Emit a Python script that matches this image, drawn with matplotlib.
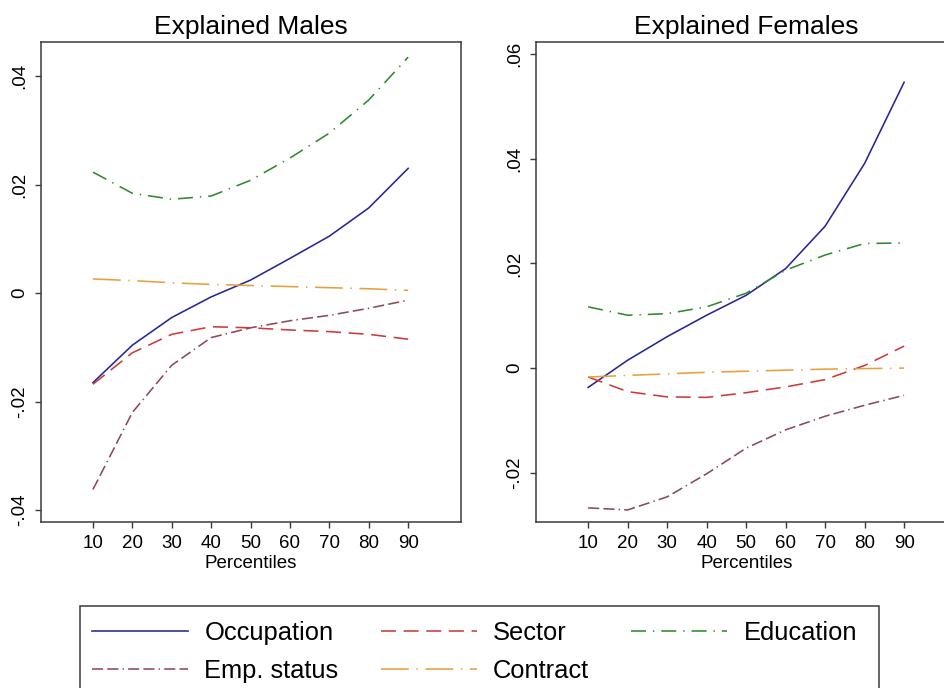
import matplotlib
matplotlib.use("Agg")
import matplotlib.pyplot as plt
from matplotlib.patches import Rectangle

plt.rcParams['font.family'] = ['Liberation Sans', 'DejaVu Sans']
plt.rcParams['lines.scale_dashes'] = False

percentiles = [10, 20, 30, 40, 50, 60, 70, 80, 90]

# explained components, males
males_occupation = [-0.0165, -0.0096, -0.0045, -0.0007, 0.0024, 0.0064, 0.0105, 0.0157, 0.0230]
males_sector = [-0.0168, -0.0110, -0.0076, -0.0062, -0.0064, -0.0068, -0.0071, -0.0076, -0.0085]
males_education = [0.0223, 0.0184, 0.0173, 0.0179, 0.0208, 0.0249, 0.0295, 0.0356, 0.0435]
males_empstatus = [-0.0362, -0.0220, -0.0133, -0.0082, -0.0064, -0.0051, -0.0041, -0.0028, -0.0013]
males_contract = [0.0026, 0.0023, 0.0019, 0.0016, 0.0014, 0.0012, 0.0010, 0.0008, 0.0005]

# explained components, females
females_occupation = [-0.0037, 0.0015, 0.0060, 0.0101, 0.0139, 0.0190, 0.0271, 0.0391, 0.0546]
females_sector = [-0.0017, -0.0045, -0.0055, -0.0056, -0.0047, -0.0036, -0.0022, 0.0005, 0.0042]
females_education = [0.0117, 0.0101, 0.0104, 0.0117, 0.0143, 0.0187, 0.0216, 0.0238, 0.0239]
females_empstatus = [-0.0267, -0.0271, -0.0246, -0.0202, -0.0153, -0.0118, -0.0092, -0.0071, -0.0052]
females_contract = [-0.0017, -0.0014, -0.0011, -0.0008, -0.0006, -0.0004, -0.0002, -0.0001, 0.0000]

males_yticks = [-0.04, -0.02, 0, 0.02, 0.04]
males_yticklabels = ['-.04', '-.02', '0', '.02', '.04']
females_yticks = [-0.02, 0, 0.02, 0.04, 0.06]
females_yticklabels = ['-.02', '0', '.02', '.04', '.06']

styles = {
    'Occupation': dict(color='#26269a', linestyle='-'),
    'Sector': dict(color='#cc3a3a', linestyle=(0, (10.8, 5.5))),
    'Education': dict(color='#2e8a2e', linestyle=(0, (10.8, 5, 1, 5))),
    'Emp. status': dict(color='#8c4a56', linestyle=(0, (8, 3, 8, 3, 1, 3))),
    'Contract': dict(color='#e6a03c', linestyle=(0, (20, 5.5, 1, 5.5))),
}
frame_col = '#3a3a3a'

fig = plt.figure(figsize=(9.44, 6.88), dpi=100)
ax1 = fig.add_axes([0.0434, 0.2413, 0.4449, 0.6977])
ax2 = fig.add_axes([0.5678, 0.2413, 0.4460, 0.6977])


def draw_panel(ax, title, series, yticks, yticklabels, ylim):
    for name, vals in series:
        ax.plot(percentiles, vals, lw=1.15, label=name, **styles[name])
    ax.set_xlim(-3.2, 103.4)
    ax.set_ylim(*ylim)
    ax.set_xticks(percentiles)
    ax.set_yticks(yticks)
    ax.set_yticklabels(yticklabels, rotation=90, va='center')
    ax.tick_params(labelsize=13.5, length=4.5, width=1.0, color=frame_col, pad=5)
    ax.set_xlabel('Percentiles', fontsize=13.5, labelpad=2)
    ax.set_title(title, fontsize=19, pad=6)
    for sp in ax.spines.values():
        sp.set_color(frame_col)
        sp.set_linewidth(1.1)


draw_panel(ax1, 'Explained Males',
           [('Occupation', males_occupation), ('Emp. status', males_empstatus),
            ('Sector', males_sector), ('Contract', males_contract),
            ('Education', males_education)],
           males_yticks, males_yticklabels, (-0.0422, 0.0463))
draw_panel(ax2, 'Explained Females',
           [('Occupation', females_occupation), ('Emp. status', females_empstatus),
            ('Sector', females_sector), ('Contract', females_contract),
            ('Education', females_education)],
           females_yticks, females_yticklabels, (-0.0294, 0.0623))

# legend box running off the bottom edge
fig.patches.append(Rectangle((80 / 944, -0.05), (879 - 80) / 944, 0.05 + (688 - 606) / 688,
                             transform=fig.transFigure, fill=False,
                             edgecolor=frame_col, lw=1.1))
handles, labels = ax1.get_legend_handles_labels()
fig.legend(handles, labels, ncol=3, frameon=False, fontsize=18.4,
           loc='upper left', bbox_to_anchor=(92 / 944, 1 - 621 / 688),
           borderpad=0, borderaxespad=0, handlelength=3.75, handletextpad=0.65,
           columnspacing=1.65, labelspacing=0.55)

fig.savefig('out.png', dpi=100)
